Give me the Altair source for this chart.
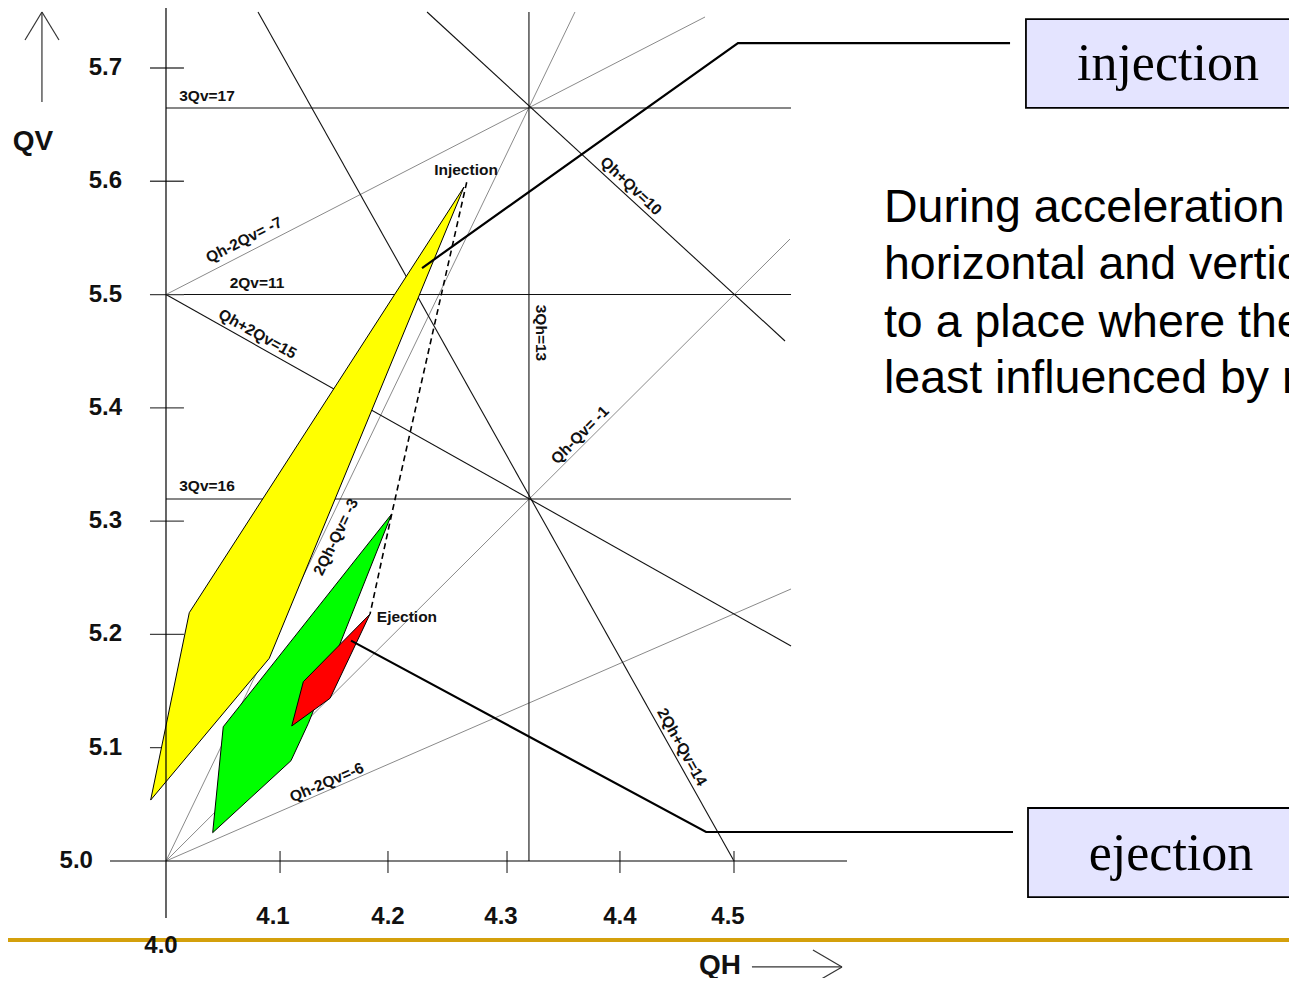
import altair as alt
import pandas as pd

# visible range of the tune diagram (horizontal tune Qh, vertical tune Qv)
QH_RANGE = [3.86092, 4.98856]
QV_RANGE = [4.89673, 5.75294]

# black resonance lines (as drawn): start / end points
black_names = ["3Qv=17", "2Qv=11", "3Qv=16", "3Qh=13", "Qh+Qv=10", "2Qh+Qv=14", "Qh+2Qv=15"]
black_qh1 = [4.0, 4.0, 4.0, 4.3195, 4.2298, 4.0810, 4.0]
black_qv1 = [5.6647, 5.5, 5.3195, 5.7494, 5.7494, 5.7494, 5.5]
black_qh2 = [4.5502, 4.5502, 4.5502, 4.3195, 4.5449, 4.5, 4.5502]
black_qv2 = [5.6647, 5.5, 5.3195, 5.0, 5.4590, 5.0, 5.1898]

# grey (difference) resonance lines
gray_names = ["Qh-2Qv=-7", "2Qh-Qv=-3", "Qh-Qv=-1", "Qh-2Qv=-6"]
gray_qh1 = [4.0, 4.0, 4.0, 4.0]
gray_qv1 = [5.5, 5.0, 5.0, 5.0]
gray_qh2 = [4.4745, 4.3600, 4.5493, 4.5502]
gray_qv2 = [5.7450, 5.7494, 5.5490, 5.2401]

# line labels
label_text = ["3Qv=17", "2Qv=11", "3Qv=16", "Qh-2Qv= -7", "Qh+2Qv=15", "Qh+Qv=10",
              "3Qh=13", "Qh-Qv= -1", "2Qh-Qv= -3", "Qh-2Qv=-6", "2Qh+Qv=14",
              "Injection", "Ejection"]
label_qh = [4.0361, 4.0801, 4.0361, 4.0687, 4.0805, 4.4093, 4.3301, 4.3644,
            4.1496, 4.1415, 4.4542, 4.2641, 4.2121]
label_qv = [5.6753, 5.5102, 5.3310, 5.5482, 5.4652, 5.5958, 5.4661, 5.3760,
            5.2860, 5.0693, 5.1006, 5.6099, 5.2154]
label_angle = [0, 0, 0, 333, 29, 43, 90, 315, 296, 337, 61, 0, 0]

# working-point regions
yellow_qh = [4.2623, 4.0205, 3.9865, 4.0909]
yellow_qv = [5.5949, 5.2192, 5.0538, 5.1789]
green_qh = [4.1987, 4.0504, 4.0411, 4.1100, 4.1253]
green_qv = [5.3063, 5.1185, 5.0250, 5.0885, 5.1215]
red_qh = [4.1796, 4.1209, 4.1107, 4.1444]
red_qv = [5.2180, 5.1583, 5.1192, 5.1436]

# tune path during acceleration (dashed)
path_qh = [4.2647, 4.1987, 4.1796]
path_qv = [5.5991, 5.3063, 5.2180]

# leader lines to the call-out boxes
inj_leader_qh = [4.2254, 4.5035, 4.7430]
inj_leader_qv = [5.5234, 5.7220, 5.7220]
ej_leader_qh = [4.1629, 4.4754, 4.7456]
ej_leader_qv = [5.1945, 5.0256, 5.0256]

# call-out boxes
box_text = ["injection", "ejection"]
box_qh1 = [4.7570, 4.7588]
box_qh2 = [5.0158, 5.0158]
box_qv1 = [5.7432, 5.0468]
box_qv2 = [5.6647, 4.9682]
box_text_qh = [4.8820, 4.8847]
box_text_qv = [5.6894, 4.9921]

# explanatory note
note_lines = ["During acceleration the working point is moved",
              "horizontal and vertical tunes are moved",
              "to a place where the beam is",
              "least influenced by resonances."]
note_qh = [4.6320, 4.6320, 4.6320, 4.6320]
note_qv = [5.5640, 5.5137, 5.4625, 5.4131]

# axes
ytick_values = [5.1, 5.2, 5.3, 5.4, 5.5, 5.6, 5.7]
ytick_labels = ["5.1", "5.2", "5.3", "5.4", "5.5", "5.6", "5.7"]
xtick_values = [4.1004, 4.1954, 4.3002, 4.3996, 4.5]
xtick_labels = ["4.1", "4.2", "4.3", "4.4", "4.5"]
xlabel_qh = [4.0942, 4.1954, 4.2949, 4.3996, 4.4947]

xs = alt.Scale(domain=QH_RANGE, nice=False, zero=False)
ys = alt.Scale(domain=QV_RANGE, nice=False, zero=False)


def X(f):
    return alt.X(f"{f}:Q", scale=xs, axis=None)


def Y(f):
    return alt.Y(f"{f}:Q", scale=ys, axis=None)


def seg_chart(df, color, width, dash=None):
    kw = dict(color=color, strokeWidth=width)
    if dash:
        kw["strokeDash"] = dash
    return alt.Chart(df).mark_rule(**kw).encode(
        x=X("qh1"), y=Y("qv1"), x2=alt.X2("qh2:Q"), y2=alt.Y2("qv2:Q"))


def polyline(qh, qv, color, width, dash=None, closed=False, fill=None):
    if closed:
        qh = qh + qh[:1]
        qv = qv + qv[:1]
    df = pd.DataFrame({"qh": qh, "qv": qv, "i": list(range(len(qh)))})
    kw = dict(stroke=color, strokeWidth=width, strokeJoin="miter")
    if dash:
        kw["strokeDash"] = dash
    if fill:
        kw["filled"] = True
        kw["fill"] = fill
    return alt.Chart(df).mark_line(**kw).encode(
        x=X("qh"), y=Y("qv"), order="i:Q")


layers = []

# resonance lines
gray_df = pd.DataFrame({"qh1": gray_qh1, "qv1": gray_qv1, "qh2": gray_qh2, "qv2": gray_qv2})
black_df = pd.DataFrame({"qh1": black_qh1, "qv1": black_qv1, "qh2": black_qh2, "qv2": black_qv2})
layers.append(seg_chart(gray_df, "#8a8a8a", 1))
layers.append(seg_chart(black_df, "#111111", 1.1))

# tick marks (under the regions)
ytick_df = pd.DataFrame({"qh1": [3.9859] * 7, "qh2": [4.0158] * 7,
                         "qv1": ytick_values, "qv2": ytick_values})
xtick_df = pd.DataFrame({"qh1": xtick_values, "qh2": xtick_values,
                         "qv1": [5.0088] * 5, "qv2": [4.9894] * 5})
layers.append(seg_chart(ytick_df, "#444444", 1.3))
layers.append(seg_chart(xtick_df, "#444444", 1.3))

# regions
layers.append(polyline(yellow_qh, yellow_qv, "#000000", 1, closed=True, fill="#ffff00"))
layers.append(polyline(green_qh, green_qv, "#000000", 1, closed=True, fill="#00ff00"))
layers.append(polyline(red_qh, red_qv, "#000000", 1, closed=True, fill="#ff0000"))

# axis lines
axis_df = pd.DataFrame({"qh1": [4.0, 3.9507], "qh2": [4.0, 4.5995],
                        "qv1": [4.9497, 5.0], "qv2": [5.7529, 5.0]})
layers.append(seg_chart(axis_df, "#000000", 1.2))

# dashed path and leaders
layers.append(polyline(path_qh, path_qv, "#000000", 1.6, dash=[6, 4]))
layers.append(polyline(inj_leader_qh, inj_leader_qv, "#000000", 2.2))
layers.append(polyline(ej_leader_qh, ej_leader_qv, "#000000", 2.2))

# axis arrows
arrow_df = pd.DataFrame({
    "qh1": [3.8908, 3.8759, 3.9058, 4.5158, 4.5695, 4.5695],
    "qv1": [5.6700, 5.7247, 5.7247, 4.9065, 4.9215, 4.8915],
    "qh2": [3.8908, 3.8908, 3.8908, 4.5951, 4.5951, 4.5951],
    "qv2": [5.7494, 5.7494, 5.7494, 4.9065, 4.9065, 4.9065]})
layers.append(seg_chart(arrow_df, "#333333", 1.2))

# gold separator line
gold_df = pd.DataFrame({"qh1": [QH_RANGE[0]], "qh2": [QH_RANGE[1]],
                        "qv1": [4.9303], "qv2": [4.9303]})
layers.append(seg_chart(gold_df, "#d4a00c", 4))

# line labels
lab_df = pd.DataFrame({"t": label_text, "qh": label_qh, "qv": label_qv, "a": label_angle})
layers.append(alt.Chart(lab_df).mark_text(
    font="Liberation Sans", fontSize=15.5, fontWeight="bold", color="#111111",
    align="center", baseline="middle").encode(
    x=X("qh"), y=Y("qv"), text="t:N", angle=alt.Angle("a:Q", scale=None)))

# tick labels
ylab_df = pd.DataFrame({"t": ytick_labels + ["5.0"],
                        "qh": [3.9613] * 7 + [3.9357],
                        "qv": ytick_values + [5.0]})
layers.append(alt.Chart(ylab_df).mark_text(
    font="Liberation Sans", fontSize=24, fontWeight="bold", color="#111111",
    align="right", baseline="middle").encode(x=X("qh"), y=Y("qv"), text="t:N"))
xlab_df = pd.DataFrame({"t": xtick_labels + ["4.0"],
                        "qh": xlabel_qh + [3.9956],
                        "qv": [4.9506] * 5 + [4.9250]})
layers.append(alt.Chart(xlab_df).mark_text(
    font="Liberation Sans", fontSize=24, fontWeight="bold", color="#111111",
    align="center", baseline="middle").encode(x=X("qh"), y=Y("qv"), text="t:N"))

# axis titles
title_df = pd.DataFrame({"t": ["QV", "QH"], "qh": [3.8829, 4.4877], "qv": [5.6347, 4.9075]})
layers.append(alt.Chart(title_df).mark_text(
    font="Liberation Sans", fontSize=28, fontWeight="bold", color="#111111",
    align="center", baseline="middle").encode(x=X("qh"), y=Y("qv"), text="t:N"))

# call-out boxes
box_df = pd.DataFrame({"t": box_text, "qh1": box_qh1, "qh2": box_qh2,
                       "qv1": box_qv1, "qv2": box_qv2,
                       "tqh": box_text_qh, "tqv": box_text_qv})
layers.append(alt.Chart(box_df).mark_rect(
    fill="#e4e4ff", stroke="#000000", strokeWidth=1.8).encode(
    x=X("qh1"), x2=alt.X2("qh2:Q"), y=Y("qv1"), y2=alt.Y2("qv2:Q")))
layers.append(alt.Chart(box_df).mark_text(
    font="Liberation Serif", fontSize=52, color="#000000",
    align="center", baseline="alphabetic").encode(x=X("tqh"), y=Y("tqv"), text="t:N"))

# note text
note_df = pd.DataFrame({"t": note_lines, "qh": note_qh, "qv": note_qv})
layers.append(alt.Chart(note_df).mark_text(
    font="Liberation Sans", fontSize=46.5, color="#000000",
    align="left", baseline="alphabetic").encode(x=X("qh"), y=Y("qv"), text="t:N"))

chart = alt.layer(*layers).properties(
    width=1281, height=970, padding=0,
    autosize=alt.AutoSizeParams(type="none"),
    background="#ffffff",
).configure_view(strokeWidth=0)

chart.save("out.html", embed_options={"renderer": "svg", "actions": False})
